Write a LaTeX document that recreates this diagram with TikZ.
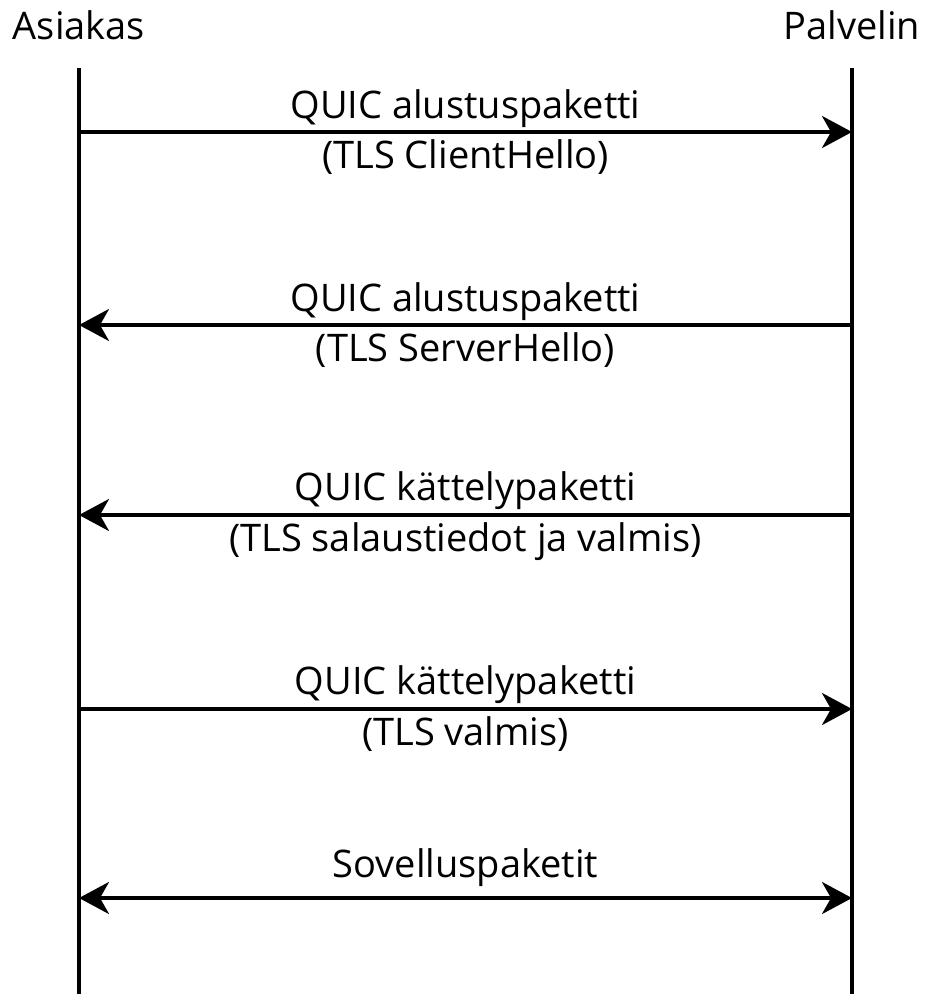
\documentclass[tikz,border=0pt]{standalone}
\usepackage{fontspec}
\setmainfont{Open Sans}
\usetikzlibrary{arrows.meta}
\tikzset{
  lbl/.style={anchor=base, inner sep=0pt, font=\fontsize{38}{45}\selectfont},
  lifeline/.style={line width=3.5pt},
  tip/.style={Stealth[length=30pt,width=32pt,inset=9pt]},
  msg/.style={line width=3.5pt, -{Stealth[length=30pt,width=32pt,inset=9pt]}},
  msgboth/.style={line width=3.5pt, {Stealth[length=30pt,width=32pt,inset=9pt]}-{Stealth[length=30pt,width=32pt,inset=9pt]}}
}
\begin{document}
\begin{tikzpicture}[x=1pt,y=1pt]
  \useasboundingbox (0,0) rectangle (927,-994);
  % participants
  \node[lbl] (asiakas) at (79,-39) {Asiakas};
  \node[lbl] (palvelin) at (852,-39) {Palvelin};
  % lifelines
  \coordinate (aTop) at (79,-68);
  \coordinate (aBot) at (79,-994);
  \coordinate (pTop) at (852,-68);
  \coordinate (pBot) at (852,-994);
  \draw[lifeline] (aTop) -- (aBot);
  \draw[lifeline] (pTop) -- (pBot);
  % message end points
  \foreach \i/\y in {1/132,2/325,3/515,4/709,5/898}{
    \coordinate (a\i) at (79,-\y);
    \coordinate (p\i) at (852,-\y);
  }
  % messages
  \draw[msg] (a1) -- (p1);
  \node[lbl] (m1a) at (465.5,-118) {QUIC alustuspaketti};
  \node[lbl] (m1b) at (465.5,-168) {(TLS ClientHello)};

  \draw[msg] (p2) -- (a2);
  \node[lbl] (m2a) at (465.5,-311) {QUIC alustuspaketti};
  \node[lbl] (m2b) at (465.5,-361) {(TLS ServerHello)};

  \draw[msg] (p3) -- (a3);
  \node[lbl] (m3a) at (465.5,-500) {QUIC kättelypaketti};
  \node[lbl] (m3b) at (465.5,-551) {(TLS salaustiedot ja valmis)};

  \draw[msg] (a4) -- (p4);
  \node[lbl] (m4a) at (465.5,-694) {QUIC kättelypaketti};
  \node[lbl] (m4b) at (465.5,-745) {(TLS valmis)};

  \draw[msgboth] (a5) -- (p5);
  \node[lbl] (m5a) at (465.5,-877) {Sovelluspaketit};
\end{tikzpicture}
\end{document}
